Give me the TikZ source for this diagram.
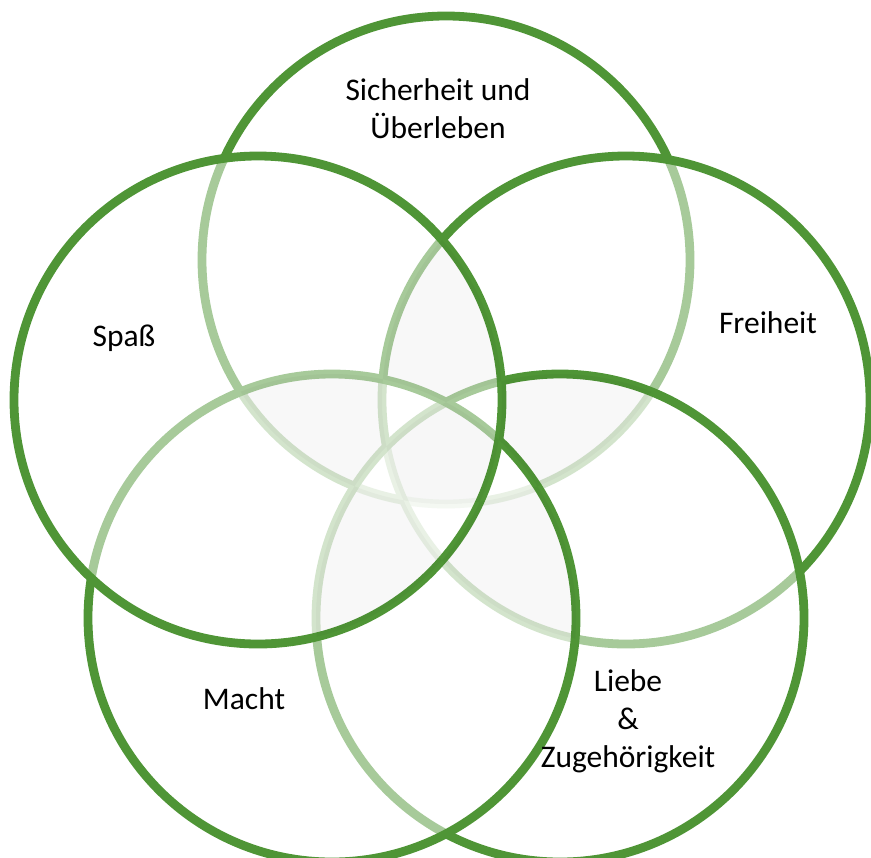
\documentclass[tikz,border=0pt]{standalone}
\usepackage{fontspec}
\setmainfont{Carlito}
\usepackage{tikz}
\usetikzlibrary{positioning}
\definecolor{needgreen}{HTML}{4F9536}
\newcommand{\needradius}{122pt}
\tikzset{
  needring/.style={draw=needgreen, line width=4.4pt, fill=white, fill opacity=0.5},
  overlapfill/.style={fill=black, fill opacity=0.028},
  needtext/.style={align=center, inner sep=0pt, font=\fontsize{15.75}{19}\selectfont}
}

\begin{document}
\begin{tikzpicture}[x=0.5pt, y=-0.5pt]
  \useasboundingbox (0,0) rectangle (871,857);
  \coordinate (sicher) at (446,260);
  \coordinate (frei) at (626,400);
  \coordinate (liebe) at (560,618);
  \coordinate (macht) at (332,618);
  \coordinate (spass) at (258,400);
  \foreach \c in {sicher,frei,liebe,macht,spass}
    \draw[needring] (\c) circle[radius=\needradius];
  \foreach \a/\b/\c/\d/\e in {spass/sicher/frei/liebe/macht, sicher/frei/liebe/macht/spass, frei/liebe/macht/spass/sicher, liebe/macht/spass/sicher/frei, macht/spass/sicher/frei/liebe}{
    \begin{scope}[even odd rule]
      \clip (\a) circle[radius=\needradius];
      \clip (\b) circle[radius=\needradius];
      \clip (\c) circle[radius=\needradius];
      \clip (0,0) rectangle (871,857) (\d) circle[radius=\needradius];
      \clip (0,0) rectangle (871,857) (\e) circle[radius=\needradius];
      \fill[overlapfill] (0,0) rectangle (871,857);
    \end{scope}
  }
  \begin{scope}
    \clip (sicher) circle[radius=\needradius];
    \clip (frei) circle[radius=\needradius];
    \clip (liebe) circle[radius=\needradius];
    \clip (macht) circle[radius=\needradius];
    \clip (spass) circle[radius=\needradius];
    \fill[overlapfill] (0,0) rectangle (871,857);
  \end{scope}
  \node[needtext] (sichertext) at (438,109) {Sicherheit und\\Überleben};
  \node[needtext] (freitext) at (768,323) {Freiheit};
  \node[needtext] (spasstext) at (124,338) {Spaß};
  \node[needtext] (machttext) at (244,699) {Macht};
  \node[needtext] (liebetext) at (628,721) {Liebe\\\&\\Zugehörigkeit};
\end{tikzpicture}
\end{document}
